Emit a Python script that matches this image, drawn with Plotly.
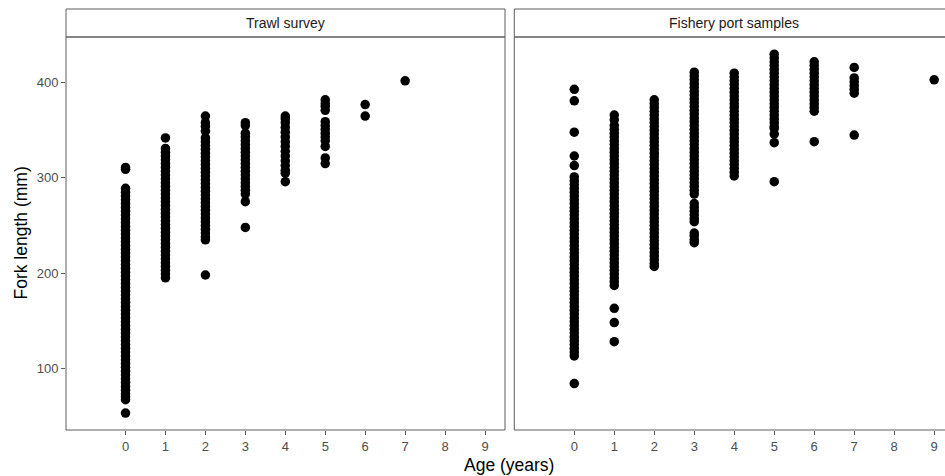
import plotly.graph_objects as go

# ---------------- data ----------------
panel_titles = ["Trawl survey", "Fishery port samples"]
age_ticks = [0, 1, 2, 3, 4, 5, 6, 7, 8, 9]
fl_ticks = [100, 200, 300, 400]

trawl_ages = [0, 1, 2, 3, 4, 5, 6, 7]
trawl_lengths = [
    [311, 309, 289, 285, 281, 277, 273, 269, 265, 261, 257, 253, 249, 245, 241, 237,
     233, 229, 225, 221, 217, 213, 209, 205, 201, 197, 193, 189, 185, 181, 177, 173,
     169, 165, 161, 157, 153, 149, 145, 141, 137, 133, 129, 125, 121, 117, 113, 109,
     105, 101, 97, 93, 89, 85, 81, 77, 73, 70, 67, 53],
    [342, 331, 327, 323, 319, 315, 311, 307, 303, 299, 295, 291, 287, 283, 279, 275,
     271, 267, 263, 259, 255, 251, 247, 243, 239, 235, 231, 227, 223, 219, 215, 211,
     207, 203, 199, 195],
    [365, 358, 354, 349, 342, 338, 334, 330, 326, 322, 318, 314, 310, 306, 302, 298,
     294, 290, 286, 282, 278, 274, 270, 266, 262, 258, 254, 250, 246, 242, 238, 235, 198],
    [358, 355, 347, 343, 339, 335, 331, 327, 323, 319, 315, 311, 307, 303, 299, 295,
     291, 287, 283, 275, 248],
    [365, 362, 358, 353, 348, 343, 338, 333, 328, 323, 318, 313, 308, 305, 296],
    [382, 378, 375, 371, 359, 355, 351, 347, 343, 339, 333, 321, 315],
    [377, 365],
    [402],
]

port_ages = [0, 1, 2, 3, 4, 5, 6, 7, 9]
port_lengths = [
    [393, 381, 348, 323, 313, 301, 297, 293, 289, 285, 281, 277, 273, 269, 265, 261,
     257, 253, 249, 245, 241, 237, 233, 229, 225, 221, 217, 213, 209, 205, 201, 197,
     193, 189, 185, 181, 177, 173, 169, 165, 161, 157, 153, 149, 145, 141, 137, 133,
     129, 125, 121, 117, 113, 84],
    [366, 361, 355, 351, 347, 343, 339, 335, 331, 327, 323, 319, 315, 311, 307, 303,
     299, 295, 291, 287, 283, 279, 275, 271, 267, 263, 259, 255, 251, 247, 243, 239,
     235, 231, 227, 223, 219, 215, 211, 207, 203, 199, 195, 191, 187, 163, 148, 128],
    [382, 378, 374, 370, 366, 362, 358, 354, 350, 346, 342, 338, 334, 330, 326, 322,
     318, 314, 310, 306, 302, 298, 294, 290, 286, 282, 278, 274, 270, 266, 262, 258,
     254, 250, 246, 242, 238, 234, 230, 226, 222, 218, 214, 210, 207],
    [411, 407, 403, 399, 395, 391, 387, 383, 379, 375, 371, 367, 363, 359, 355, 351,
     347, 343, 339, 335, 331, 327, 323, 319, 315, 311, 307, 303, 299, 295, 291, 287,
     283, 273, 269, 265, 261, 257, 254, 242, 239, 235, 232],
    [410, 406, 402, 398, 394, 390, 386, 382, 378, 374, 370, 366, 362, 358, 354, 350,
     346, 342, 338, 334, 330, 326, 322, 318, 314, 310, 306, 302],
    [430, 426, 422, 418, 414, 410, 406, 402, 398, 394, 390, 386, 382, 378, 374, 370,
     366, 362, 358, 354, 352, 346, 337, 296],
    [422, 418, 414, 410, 406, 402, 398, 394, 390, 386, 382, 378, 374, 370, 338],
    [416, 405, 401, 397, 393, 389, 345],
    [403],
]

# ---------------- figure ----------------
W, H = 945, 476
ML, MR, MT, MB = 66, 0, 9, 46
PW, PH = W - ML - MR, H - MT - MB

left_dom = [0, 439 / PW]
right_dom = [448.3 / PW, 1.0]
y_top = 393 / PH  # top of data area (strip sits above)

border = "#5c5c5c"
tickcol = "#4d4d4d"
font_fam = "Liberation Sans, Arial, sans-serif"

fig = go.Figure()

def add_panel(ages, lengths, xa, ya):
    xs, ys = [], []
    for a, ls in zip(ages, lengths):
        for v in ls:
            xs.append(a)
            ys.append(v)
    fig.add_trace(go.Scatter(
        x=xs, y=ys, mode="markers", xaxis=xa, yaxis=ya,
        marker=dict(color="black", size=9.5, line=dict(width=0)),
        showlegend=False, hoverinfo="x+y"))

add_panel(trawl_ages, trawl_lengths, "x", "y")
add_panel(port_ages, port_lengths, "x2", "y2")

yrange = [35.2, 448]
common_x = dict(tickvals=age_ticks, ticktext=[str(t) for t in age_ticks],
                ticks="outside", ticklen=4, tickcolor=border, tickwidth=1,
                showgrid=False, zeroline=False, showline=False,
                tickfont=dict(size=13, color=tickcol, family=font_fam))
fig.update_layout(
    width=W, height=H,
    margin=dict(l=ML, r=MR, t=MT, b=MB),
    paper_bgcolor="white", plot_bgcolor="white",
    font=dict(family=font_fam),
    xaxis=dict(domain=left_dom, range=[-1.49, 9.5], anchor="y", **common_x),
    xaxis2=dict(domain=right_dom, range=[-1.5, 9.27], anchor="y2", **common_x),
    yaxis=dict(domain=[0, y_top], range=yrange, anchor="x",
               tickvals=fl_ticks, ticktext=[str(t) for t in fl_ticks],
               ticks="outside", ticklen=4, tickcolor=border, tickwidth=1,
               showgrid=False, zeroline=False, showline=False,
               tickfont=dict(size=13, color=tickcol, family=font_fam)),
    yaxis2=dict(domain=[0, y_top], range=yrange, anchor="x2", matches="y",
                showticklabels=False, ticks="", showgrid=False,
                zeroline=False, showline=False),
)

shapes = []
lw = dict(color=border, width=1)
# left panel border + strip
shapes.append(dict(type="rect", xref="paper", yref="paper",
                   x0=left_dom[0], x1=left_dom[1], y0=0, y1=1,
                   line=lw, fillcolor="rgba(0,0,0,0)", layer="above"))
shapes.append(dict(type="line", xref="paper", yref="paper",
                   x0=left_dom[0], x1=left_dom[1], y0=y_top, y1=y_top,
                   line=dict(color=border, width=1.3), layer="above"))
# right panel (right edge cropped off)
for (x0, x1, y0, y1) in [
    (right_dom[0], right_dom[0], 0, 1),
    (right_dom[0], 1.0, 0, 0),
    (right_dom[0], 1.0, 1, 1),
]:
    shapes.append(dict(type="line", xref="paper", yref="paper",
                       x0=x0, x1=x1, y0=y0, y1=y1, line=lw, layer="above"))
shapes.append(dict(type="line", xref="paper", yref="paper",
                   x0=right_dom[0], x1=1.0, y0=y_top, y1=y_top,
                   line=dict(color=border, width=1.3), layer="above"))
fig.update_layout(shapes=shapes)

strip_mid = (1 + y_top) / 2
ann = [
    dict(text=panel_titles[0], xref="paper", yref="paper",
         x=(left_dom[0] + left_dom[1]) / 2, y=strip_mid, showarrow=False,
         font=dict(size=14, color="#1a1a1a", family=font_fam),
         xanchor="center", yanchor="middle"),
    dict(text=panel_titles[1], xref="paper", yref="paper",
         x=(right_dom[0] + (right_dom[0] + 439 / PW)) / 2, y=strip_mid, showarrow=False,
         font=dict(size=14, color="#1a1a1a", family=font_fam),
         xanchor="center", yanchor="middle"),
    dict(text="Age (years)", xref="paper", yref="paper",
         x=(509 - ML) / PW, y=-35 / PH, showarrow=False,
         font=dict(size=17.5, color="black", family=font_fam),
         xanchor="center", yanchor="middle"),
    dict(text="Fork length (mm)", xref="paper", yref="paper",
         x=(20 - ML) / PW, y=(430 - 233.5) / PH, showarrow=False, textangle=-90,
         font=dict(size=17.5, color="black", family=font_fam),
         xanchor="center", yanchor="middle"),
]
fig.update_layout(annotations=ann)

fig.write_html("out.html", config={"displayModeBar": False},
               post_script="document.body.style.margin='0';document.body.style.padding='0';")
